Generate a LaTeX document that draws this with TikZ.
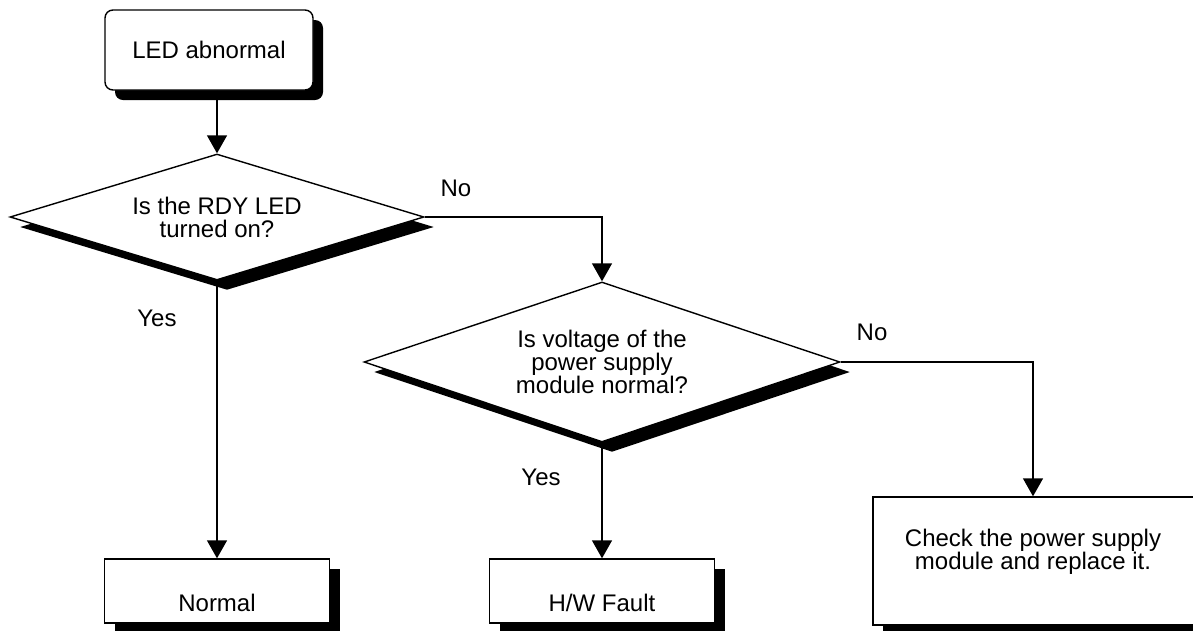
\documentclass[tikz,border=0pt]{standalone}
\usepackage{fontspec}
\setmainfont{Liberation Sans}
\usetikzlibrary{shapes.geometric,shadows,arrows.meta}
\begin{document}
\begin{tikzpicture}[x=1pt,y=-1pt,
  every node/.style={font=\fontsize{24}{23}\selectfont},
  shad/.style={drop shadow={shadow xshift=10pt,shadow yshift=-10pt,opacity=1,fill=black}},
  box/.style={draw,fill=white,line width=1.4pt,inner sep=0pt,shad},
  dec/.style={diamond,draw,fill=white,line width=1.4pt,inner sep=0pt,align=center,shad},
  conn/.style={line width=1.4pt,-{Triangle[width=20pt,length=18pt]}},
  lbl/.style={inner sep=0pt}]
\useasboundingbox (0,0) rectangle (1193,630);
\clip (0,0) rectangle (1193,630);
\node[box,rounded corners=8pt,minimum width=208pt,minimum height=80pt] (start) at (209,50) {LED abnormal};
\node[dec,minimum width=414pt,minimum height=126pt,aspect=3.3] (d1) at (217,217) {Is the RDY LED\\turned on?};
\node[dec,minimum width=476pt,minimum height=160pt,aspect=3] (d2) at (602,362) {Is voltage of the\\power supply\\module normal?};
\node[box,minimum width=225pt,minimum height=64pt,label={[yshift=-12pt]center:Normal}] (normal) at (217,591) {};
\node[box,minimum width=225pt,minimum height=64pt,label={[yshift=-12pt]center:H/W Fault}] (hw) at (602,591) {};
\node[box,minimum width=330pt,minimum height=128pt,label={[xshift=-5pt,yshift=9pt,align=center]center:Check the power supply\\module and replace it.}] (chk) at (1038,561) {};
\coordinate (chkin) at ([xshift=-5pt]chk.north);
\draw[conn] (start.south -| d1.north) -- (d1.north);
\draw[conn] (d1.south) -- (normal.north);
\draw[conn] (d1.east) -| (d2.north);
\draw[conn] (d2.south) -- (hw.north);
\draw[conn] (d2.east) -| (chkin);
\node[lbl] (no1) at (456,188) {No};
\node[lbl] (yes1) at (157,318) {Yes};
\node[lbl] (no2) at (872,332) {No};
\node[lbl] (yes2) at (541,477) {Yes};
\end{tikzpicture}
\end{document}
